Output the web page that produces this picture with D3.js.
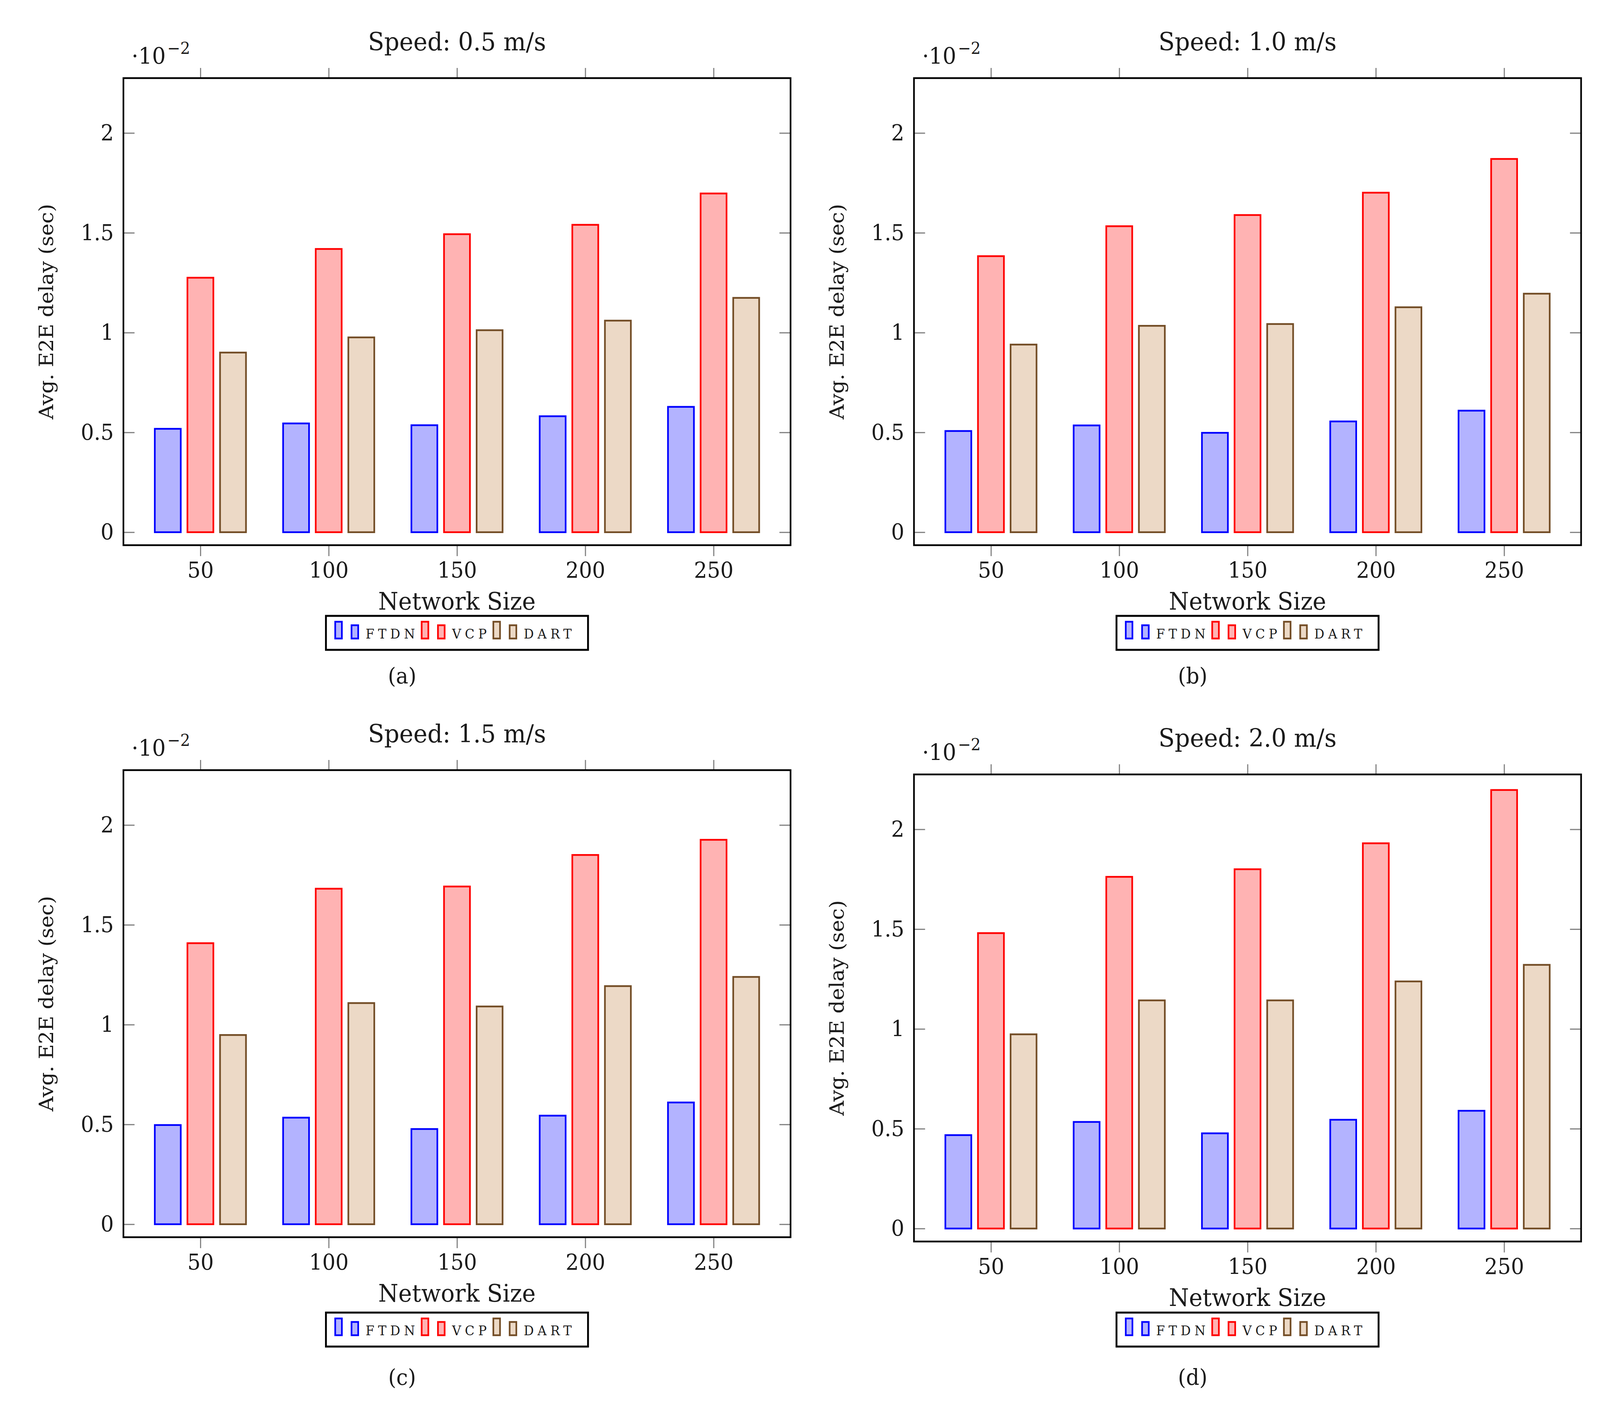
<!DOCTYPE html>
<html>
<head>
<meta charset="utf-8">
<script src="https://cdn.jsdelivr.net/npm/d3@7"></script>
<style>
    body { margin: 0; background: #fff; overflow: hidden; }
    text { font-family: "DejaVu Serif", serif; fill: #1a1a1a; }
</style>
</head>
<body>
<div id="chart"></div>
<script>

// Data (delay in units of 10^-2 s)
var sizes = [50, 100, 150, 200, 250];
var speeds = ["0.5", "1.0", "1.5", "2.0"];
var captions = ["(a)", "(b)", "(c)", "(d)"];
var seriesNames = ["FTDN", "VCP", "DART"];
var yTicks = [0, 0.5, 1, 1.5, 2];
var yTickLabels = ["0", "0.5", "1", "1.5", "2"];

var ftdnA = [0.518, 0.545, 0.536, 0.581, 0.628];
var vcpA  = [1.275, 1.419, 1.493, 1.540, 1.697];
var dartA = [0.900, 0.976, 1.012, 1.060, 1.174];

var ftdnB = [0.507, 0.535, 0.498, 0.555, 0.609];
var vcpB  = [1.383, 1.533, 1.589, 1.701, 1.870];
var dartB = [0.940, 1.034, 1.043, 1.127, 1.195];

var ftdnC = [0.497, 0.534, 0.477, 0.544, 0.610];
var vcpC  = [1.408, 1.681, 1.692, 1.850, 1.926];
var dartC = [0.948, 1.108, 1.091, 1.193, 1.239];

var ftdnD = [0.468, 0.534, 0.477, 0.545, 0.590];
var vcpD  = [1.480, 1.762, 1.800, 1.930, 2.197];
var dartD = [0.973, 1.143, 1.143, 1.238, 1.321];

var panelData = [
    [ftdnA, vcpA, dartA],
    [ftdnB, vcpB, dartB],
    [ftdnC, vcpC, dartC],
    [ftdnD, vcpD, dartD]
];

// styles
var fills = ["#b3b3ff", "#ffb3b3", "#ecd9c6"];
var strokes = ["#0000ff", "#ff0000", "#734d26"];

// layout, in the reference's 4317x3613 frame
var W = 4317, H = 3613;
var boxW = 1800, boxH = 1196;
var layout = [
    { left: 333, top: 200, legendTop: 1577, captionY: 1750 },
    { left: 2466, top: 200, legendTop: 1577, captionY: 1750 },
    { left: 333, top: 1972, legendTop: 3361, captionY: 3546 },
    { left: 2466, top: 1983, legendTop: 3361, captionY: 3546 }
];
var barOffset = [-88, 0, 88];
var barWidth = 70;

// the window may be narrower than the frame: stretch the frame onto it
var svg = d3.select("#chart")
    .append("svg")
    .attr("width", window.innerWidth || W)
    .attr("height", window.innerHeight || H)
    .attr("viewBox", "0 0 " + W + " " + H)
    .attr("preserveAspectRatio", "none")
    .style("display", "block");

svg.append("rect")
    .attr("width", W)
    .attr("height", H)
    .attr("fill", "#fff");

var drawPanel = function (i) {
    var pos = layout[i];
    var g = svg.append("g")
        .attr("transform", "translate(" + pos.left + "," + pos.top + ")");

    var x = d3.scaleLinear().domain([20, 280]).range([0, boxW]);
    var y = d3.scaleLinear().domain([-0.065, 2.275]).range([boxH, 0]);

    // bars
    panelData[i].forEach(function (vals, s) {
        g.append("g")
            .selectAll("rect")
            .data(vals)
            .enter()
            .append("rect")
            .attr("x", function (d, k) { return x(sizes[k]) + barOffset[s] - barWidth / 2; })
            .attr("y", function (d) { return y(d); })
            .attr("width", barWidth)
            .attr("height", function (d) { return y(0) - y(d); })
            .attr("fill", fills[s])
            .attr("stroke", strokes[s])
            .attr("stroke-width", 4.5);
    });

    // axes
    var yl = g.append("g")
        .call(d3.axisLeft(y)
            .tickValues(yTicks)
            .tickFormat(function (d, k) { return yTickLabels[k]; })
            .tickSize(-30)
            .tickPadding(26));
    var yr = g.append("g")
        .attr("transform", "translate(" + boxW + ",0)")
        .call(d3.axisRight(y).tickValues(yTicks).tickFormat("").tickSize(-30));
    var xt = g.append("g")
        .call(d3.axisTop(x).tickValues(sizes).tickFormat("").tickSize(26));
    var xb = g.append("g")
        .attr("transform", "translate(0," + boxH + ")")
        .call(d3.axisBottom(x).tickValues(sizes).tickSize(28).tickPadding(15));

    [yl, yr, xt, xb].forEach(function (a) {
        a.select(".domain").remove();
        a.selectAll(".tick line").attr("stroke", "#808080").attr("stroke-width", 3);
        a.selectAll(".tick text")
            .attr("font-size", 56)
            .attr("font-family", "DejaVu Serif")
            .attr("fill", "#1a1a1a");
    });

    // frame
    g.append("rect")
        .attr("width", boxW)
        .attr("height", boxH)
        .attr("fill", "none")
        .attr("stroke", "#000")
        .attr("stroke-width", 4.5);

    // title and scale note
    g.append("text")
        .attr("x", boxW / 2)
        .attr("y", -71)
        .attr("text-anchor", "middle")
        .attr("font-size", 64)
        .text("Speed: " + speeds[i] + " m/s");

    var note = g.append("text")
        .attr("x", 22)
        .attr("y", -37)
        .attr("font-size", 58);
    note.append("tspan").text("·10");
    note.append("tspan")
        .attr("dx", 4)
        .attr("dy", -25)
        .attr("font-size", 42)
        .text("−2");

    // axis labels
    g.append("text")
        .attr("transform", "translate(-208," + boxH / 2 + ") rotate(-90)")
        .attr("text-anchor", "middle")
        .attr("dy", "0.35em")
        .attr("font-size", 53)
        .text("Avg. E2E delay (sec)");

    g.append("text")
        .attr("x", boxW / 2)
        .attr("y", boxH + 165)
        .attr("text-anchor", "middle")
        .attr("font-size", 62)
        .text("Network Size");

    // legend
    var lg = g.append("g");
    var cursor = 23;
    seriesNames.forEach(function (name, s) {
        lg.append("rect")
            .attr("x", cursor + 2).attr("y", 15)
            .attr("width", 18).attr("height", 43)
            .attr("fill", fills[s]).attr("stroke", strokes[s]).attr("stroke-width", 4.5);
        lg.append("rect")
            .attr("x", cursor + 46).attr("y", 24)
            .attr("width", 18).attr("height", 34)
            .attr("fill", fills[s]).attr("stroke", strokes[s]).attr("stroke-width", 4.5);
        var t = lg.append("text")
            .attr("x", cursor + 84)
            .attr("y", 58)
            .attr("font-size", 34)
            .attr("letter-spacing", 10)
            .text(name);
        cursor = cursor + 84 + t.node().getComputedTextLength() + 6;
    });
    var legW = cursor + 28;
    lg.insert("rect", ":first-child")
        .attr("width", legW)
        .attr("height", 87)
        .attr("fill", "#fff")
        .attr("stroke", "#000")
        .attr("stroke-width", 5);
    lg.attr("transform", "translate(" + (boxW / 2 - legW / 2) + "," + (pos.legendTop - pos.top) + ")");

    // caption
    g.append("text")
        .attr("x", 752)
        .attr("y", pos.captionY - pos.top)
        .attr("text-anchor", "middle")
        .attr("font-size", 56)
        .text(captions[i]);
};

for (var i = 0; i < 4; i++) {
    drawPanel(i);
}

</script>
</body>
</html>
